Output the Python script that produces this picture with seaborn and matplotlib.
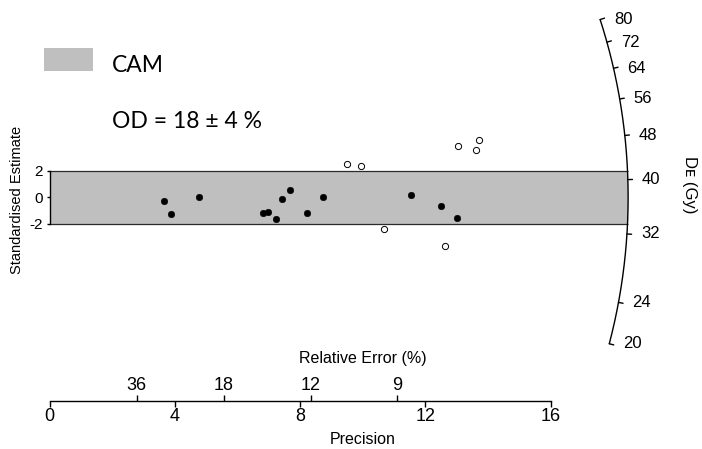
import numpy as np
import pandas as pd
import matplotlib
matplotlib.use("Agg")
import matplotlib.pyplot as plt
from matplotlib.patches import Rectangle
import seaborn as sns

# Radial plot data: precision (1/relative error) and standardised estimate
precision = [3.66, 3.88, 4.78, 6.82, 6.97, 7.23, 7.42, 7.69, 8.23, 8.73,
             11.55, 12.49, 13.00, 9.49, 9.94, 10.69, 12.62, 13.04, 13.61, 13.71]
std_estimate = [-0.28, -1.29, 0.00, -1.21, -1.14, -1.62, -0.15, 0.55, -1.21, 0.00,
                0.15, -0.66, -1.57, 2.50, 2.35, -2.42, -3.69, 3.91, 3.56, 4.34]

de_central = 37.2            # CAM central dose (Gy)
band_limits = [-2, 2]
de_ticks = [20, 24, 32, 40, 48, 56, 64, 72, 80]
precision_ticks = [0, 4, 8, 12, 16]
rel_error_ticks = [36, 18, 12, 9]
legend_label = "CAM"
od_label = "OD = 18 \u00b1 4 %"

sns.set_style("white")
plt.rcParams["font.family"] = ["Liberation Sans", "DejaVu Sans"]
plt.rcParams["axes.unicode_minus"] = False
for key in ["text.color", "axes.labelcolor", "xtick.color", "ytick.color"]:
    plt.rcParams[key] = "black"

W, H = 702, 449
fig = plt.figure(figsize=(W / 100, H / 100), dpi=100)


def fx(px):
    return px / W


def fy(py):
    return 1 - py / H


# axes geometry in pixels
x0_px, px_per_x = 49.7, 31.3
y0_px, px_per_y = 197.3, 13.2
x_max = 20
ax_left, ax_right = x0_px, x0_px + x_max * px_per_x
ax_top_px, ax_bot_px = 5, 401
ylim = ((y0_px - ax_bot_px) / px_per_y, (y0_px - ax_top_px) / px_per_y)

ax = fig.add_axes([fx(ax_left), fy(ax_bot_px),
                   (ax_right - ax_left) / W, (ax_bot_px - ax_top_px) / H])
ax.set_xlim(0, x_max)
ax.set_ylim(*ylim)
ax.patch.set_visible(False)

# radius of the dose arc (precision units) and aspect factor
r = 18.48
f = px_per_y / px_per_x

# central 2-sigma band
ax.fill_between([0, r], band_limits[0], band_limits[1], color="#bfbfbf", lw=0, zorder=1)
ax.hlines(band_limits, 0, r, color="#2a2a2a", lw=0.9, zorder=2)

df = pd.DataFrame({"precision": precision, "std": std_estimate})
inside = df["std"].abs() <= 2
sns.scatterplot(data=df[inside], x="precision", y="std", color="black",
                edgecolor="black", s=22, linewidth=0.4, ax=ax, zorder=4)
sns.scatterplot(data=df[~inside], x="precision", y="std", color="white",
                edgecolor="black", s=20, linewidth=0.7, ax=ax, zorder=4)
ax.set_xlabel("")
ax.set_ylabel("")

# dose arc
z = np.linspace(min(de_ticks), max(de_ticks), 400)
s = np.log(z / de_central)
arc_x = r / np.sqrt(1 + (f * s) ** 2)
ax.plot(arc_x, s * arc_x, color="black", lw=1.0, clip_on=False, zorder=3)
for t in de_ticks:
    st = np.log(t / de_central)
    x1 = r / np.sqrt(1 + (f * st) ** 2)
    x2 = x1 * 1.008
    ax.plot([x1, x2], [st * x1, st * x2], color="black", lw=1.0, clip_on=False)
    ax.annotate(str(t), (x1, st * x1), xytext=(10, 0), textcoords="offset points",
                ha="left", va="center", fontsize=12, annotation_clip=False)

# spines and ticks
for side in ["top", "right"]:
    ax.spines[side].set_visible(False)
ax.spines["left"].set_bounds(*band_limits)
ax.spines["bottom"].set_bounds(precision_ticks[0], precision_ticks[-1])
for side in ["left", "bottom"]:
    ax.spines[side].set_linewidth(1.0)
    ax.spines[side].set_color("black")
ax.set_xticks(precision_ticks)
ax.set_yticks([-2, 0, 2])
ax.tick_params(axis="x", direction="out", length=4, width=1, labelsize=13, pad=1,
               bottom=True, color="black")
ax.tick_params(axis="y", direction="out", length=2, width=1, labelsize=11, pad=3,
               left=True, color="black")
ax.set_xlabel("Precision", fontsize=11.5, labelpad=5)

# relative error scale on top of the precision axis
ax2 = fig.add_axes([fx(ax_left), fy(ax_bot_px), (ax_right - ax_left) / W, 0.0001])
ax2.set_xlim(0, x_max)
ax2.patch.set_visible(False)
for side in ax2.spines:
    ax2.spines[side].set_visible(False)
ax2.set_yticks([])
ax2.xaxis.tick_top()
ax2.set_xticks([100 / v for v in rel_error_ticks])
ax2.set_xticklabels([str(v) for v in rel_error_ticks])
ax2.tick_params(axis="x", direction="out", length=4, width=1, labelsize=13, pad=1,
                top=True, bottom=False, color="black")
ax2.xaxis.set_label_position("top")
ax2.set_xlabel("Relative Error (%)", fontsize=11.5, labelpad=10)

# axis titles
fig.text(fx(17), fy(200), "Standardised Estimate", rotation=90,
         ha="center", va="center", fontsize=10.5)
fig.text(fx(690), fy(185), "D\u1d07 (Gy)", rotation=270,
         ha="center", va="center", fontsize=12)

# legend
fig.add_artist(Rectangle((fx(44), fy(70.7)), (92.7 - 44) / W, (70.7 - 48.3) / H,
                         transform=fig.transFigure, color="#bfbfbf", lw=0))
fig.text(fx(112), fy(66), legend_label, family="Lato", fontsize=16.5,
         ha="left", va="center")
fig.text(fx(112), fy(122), od_label, family="Lato", fontsize=16.5,
         ha="left", va="center")

fig.savefig("out.png", dpi=100)
